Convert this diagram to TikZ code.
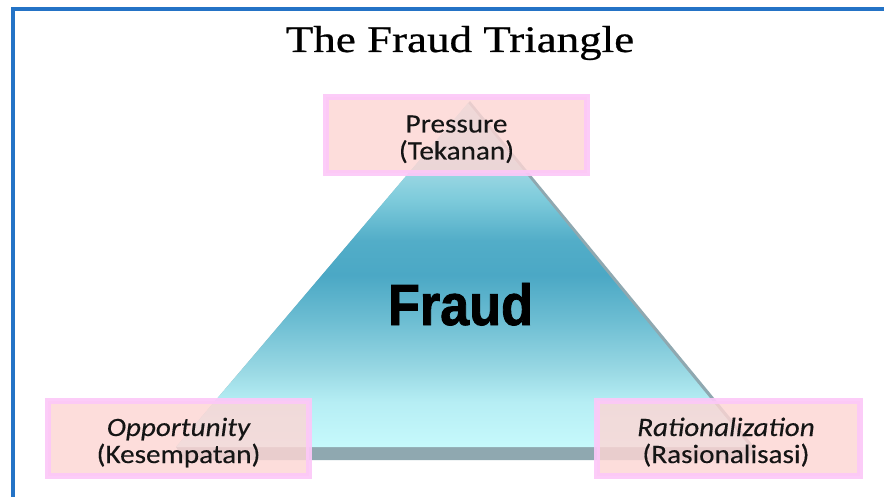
\documentclass[tikz,border=0pt]{standalone}
\usepackage{fontspec}
\setmainfont{Liberation Serif}
\newfontfamily\titlefont[FakeStretch=1.2,FakeBold=0.6]{Liberation Serif}
\newfontfamily\boxfont[FakeStretch=1.1,FakeBold=0.3]{Carlito}
\newfontfamily\fraudfont[FakeStretch=0.9,FakeBold=1.5]{Liberation Sans Bold}
\definecolor{framecol}{HTML}{2473C6}
\definecolor{boxfill}{HTML}{FDD6D4}
\definecolor{boxedge}{HTML}{FCC8F8}
\definecolor{sidegrey}{HTML}{8FA8B0}
\definecolor{txt}{HTML}{151515}
\definecolor{ca}{HTML}{C6F9FC}
\definecolor{cb}{HTML}{B6EEF4}
\definecolor{cc}{HTML}{9AD9E4}
\definecolor{cd}{HTML}{6CBDD2}
\definecolor{ce}{HTML}{4BA8C5}
\definecolor{cf}{HTML}{52ADC8}
\definecolor{cg}{HTML}{7ECBDB}
\definecolor{ch}{HTML}{9AD7E3}
\definecolor{ci}{HTML}{B8E8EF}
\pgfdeclareverticalshading{fraudshade}{100bp}{color(0bp)=(ca); color(25bp)=(ca); color(31.5bp)=(cb); color(36bp)=(cc); color(43.5bp)=(cd); color(50bp)=(ce); color(55bp)=(cf); color(61bp)=(cg); color(65bp)=(ch); color(75bp)=(ci); color(100bp)=(ci)}
\begin{document}
\begin{tikzpicture}[x=1pt,y=-1pt,
  frame/.style={draw=framecol,line width=4pt,line join=miter},
  factorbox/.style={draw=boxedge,line width=6pt,fill=boxfill,fill opacity=0.82,draw opacity=0.92,inner sep=0pt,minimum height=76pt},
  boxtext/.style={font=\boxfont\fontsize{26.5}{27}\selectfont,text=txt,anchor=base,inner sep=0pt},
  titletext/.style={font=\titlefont\fontsize{37.5}{40}\selectfont,text=black,anchor=base,inner sep=0pt},
  fraudtext/.style={font=\fraudfont\fontsize{58}{60}\selectfont,text=black,anchor=base,inner sep=0pt}]
\useasboundingbox (0,0) rectangle (884,497);
\fill[white] (0,0) rectangle (884,497);
% frame
\draw[frame] (890,9.5) -- (13,9.5) -- (13,503);
% title
\node[titletext] (title) at (460,52) {The Fraud Triangle};
% pyramid
\coordinate (apex) at (468,103);
\coordinate (bl) at (176,447);
\coordinate (br) at (750,447);
\fill[sidegrey] (470,101) -- (756,449) -- (747,460) -- (184,460) -- (bl) -- cycle;
\shade[shading=fraudshade] (apex) -- (br) -- (bl) -- cycle;
\node[fraudtext] (fraud) at (460.5,325) {Fraud};
% factor boxes
\node[factorbox,minimum width=261pt] (pbox) at (456.5,135) {};
\node[factorbox,minimum width=261pt,minimum height=75pt] (obox) at (178.5,438.5) {};
\node[factorbox,minimum width=263pt,minimum height=75pt] (rbox) at (728.5,438.5) {};
\node[boxtext] (pressure) at (456.5,132.5) {Pressure};
\node[boxtext] (tekanan) at (456.5,159.5) {(Tekanan)};
\node[boxtext] (opp) at (178.5,436) {\itshape Opportunity};
\node[boxtext] (kes) at (178.5,463) {(Kesempatan)};
\node[boxtext] (rat) at (726,436) {\itshape Rationalization};
\node[boxtext] (ras) at (726,463) {(Rasionalisasi)};
\end{tikzpicture}
\end{document}
